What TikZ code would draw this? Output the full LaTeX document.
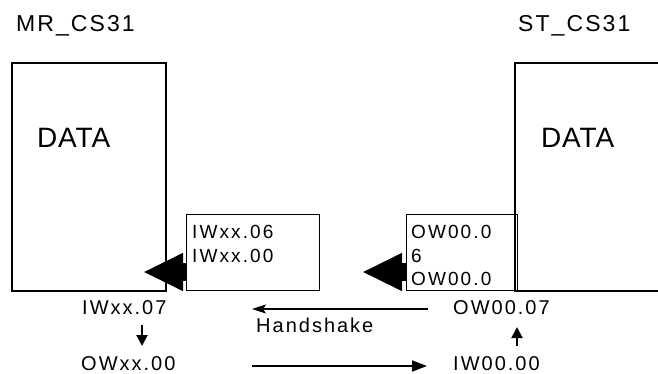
\documentclass[tikz,border=0pt]{standalone}
\usepackage{fontspec}
\setmainfont{Liberation Sans}
\usetikzlibrary{arrows.meta}
\newcommand\fsz[2]{\fontsize{#1}{#1}\selectfont\addfontfeature{LetterSpace=#2}}
\begin{document}
\begin{tikzpicture}[x=1pt,y=-1pt,
  txt/.style={inner sep=0pt,anchor=base west},
  title/.style={txt,font=\fsz{23}{9}},
  datatxt/.style={txt,font=\fsz{28}{3}},
  boxtxt/.style={txt,font=\fsz{19}{11}},
  lbl/.style={txt,font=\fsz{20}{10}},
  hstxt/.style={txt,font=\fsz{20}{10}},
  bigbox/.style={draw,line width=2pt,anchor=north west,inner sep=0pt},
  smallbox/.style={draw,line width=1.3pt,anchor=north west,inner sep=0pt},
  fat/.style={line width=18pt,-{Triangle[length=40pt,width=35pt]}},
  thinarr/.style={line width=1.2pt,-{Stealth[length=14pt,width=9pt,inset=3pt]}},
  midarr/.style={line width=1.8pt,-{Triangle[length=15pt,width=11pt]}},
  smallarr/.style={line width=2pt,-{Triangle[length=11pt,width=11pt]}}]
\useasboundingbox (0,0) rectangle (658,373);
% titles
\node[title] (mrlbl) at (16,31) {MR\_CS31};
\node[title] (stlbl) at (518,31) {ST\_CS31};
% big boxes
\node[bigbox,minimum width=154pt,minimum height=228pt] (mrbox) at (11,62) {};
\node[bigbox,minimum width=200pt,minimum height=228pt] (stbox) at (514,62) {};
\node[datatxt] (mrdata) at (37,147) {DATA};
\node[datatxt] (stdata) at (541,147) {DATA};
% small boxes
\node[smallbox,minimum width=133pt,minimum height=76pt] (ibox) at (186,214) {};
\node[smallbox,minimum width=111pt,minimum height=76pt] (obox) at (406,214) {};
\node[boxtxt] (i06) at (192,238) {IWxx.06};
\node[boxtxt] (i00) at (192,262) {IWxx.00};
\node[boxtxt] (o06a) at (411,238) {OW00.0};
\node[boxtxt] (o06b) at (411,262) {6};
\node[boxtxt] (o06c) at (411,285) {OW00.0};
% fat arrows
\coordinate (mrtip) at (143,272);
\coordinate (sttip) at (362,272);
\draw[fat] (ibox.west |- mrtip) -- (mrtip);
\draw[fat] (obox.west |- sttip) -- (sttip);
% labels
\node[lbl] (iw07) at (82,314) {IWxx.07};
\node[lbl] (owxx) at (81,370) {OWxx.00};
\node[lbl] (ow07) at (453,314) {OW00.07};
\node[lbl] (iw00) at (453,370) {IW00.00};
\node[hstxt] (hs) at (256,332) {Handshake};
% small arrows
\coordinate (d1) at (142,325);
\coordinate (d2) at (142,346);
\draw[smallarr] (d1) -- (d2);
\coordinate (u1) at (517,346);
\coordinate (u2) at (517,327);
\draw[smallarr] (u1) -- (u2);
% handshake arrows
\coordinate (h1) at (428,309);
\coordinate (h2) at (252,309);
\draw[thinarr] (h1) -- (h2);
\coordinate (b1) at (252,366);
\coordinate (b2) at (427,366);
\draw[midarr] (b1) -- (b2);
\end{tikzpicture}
\end{document}
